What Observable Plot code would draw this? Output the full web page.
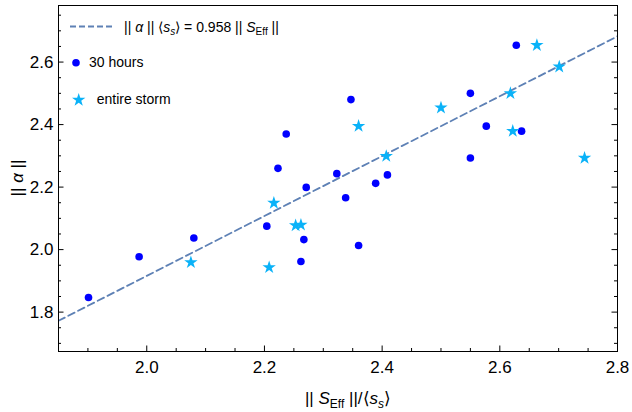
<!DOCTYPE html>
<html><head><meta charset="utf-8">
<script src="https://cdn.jsdelivr.net/npm/d3@7"></script>
<script src="https://cdn.jsdelivr.net/npm/@observablehq/plot@0.6"></script>
<style>body{margin:0;background:#fff} svg{font-family:"Liberation Sans",Arial,sans-serif}</style>
</head><body><div id="chart"></div>
<script>
// 30 hours (blue dots)
const hoursX = [1.901, 1.987, 2.080, 2.204, 2.223, 2.237, 2.271, 2.267, 2.262, 2.323, 2.338, 2.347, 2.389, 2.409, 2.360, 2.550, 2.577, 2.550, 2.628, 2.637];
const hoursY = [1.847, 1.977, 2.037, 2.075, 2.260, 2.370, 2.199, 2.032, 1.962, 2.243, 2.166, 2.480, 2.212, 2.239, 2.013, 2.500, 2.395, 2.293, 2.654, 2.379];
// entire storm (stars)
const stormX = [2.075, 2.208, 2.216, 2.253, 2.262, 2.360, 2.407, 2.500, 2.618, 2.622, 2.663, 2.701, 2.744];
const stormY = [1.959, 1.943, 2.149, 2.077, 2.079, 2.395, 2.299, 2.454, 2.500, 2.379, 2.654, 2.585, 2.293];
// fit line
const fitSlope = 0.958;
const xTicks = [2.0, 2.2, 2.4, 2.6, 2.8];
const yTicks = [1.8, 2.0, 2.2, 2.4, 2.6];
const xDomain = [1.85, 2.8];
const yDomain = [1.674, 2.781];

const W = 632, H = 412, mL = 58, mR = 15, mT = 5, mB = 61;
const hours = hoursX.map((x, i) => ({x, y: hoursY[i]}));
const storm = stormX.map((x, i) => ({x, y: stormY[i]}));
const fit = xDomain.map(x => ({x, y: fitSlope * x}));
const xMinor = d3.range(37, 57).map(i => i * 0.05).filter(v => !xTicks.some(t => Math.abs(t - v) < 1e-6));
const yMinor = d3.range(34, 56).map(i => i * 0.05).filter(v => !yTicks.some(t => Math.abs(t - v) < 1e-6));
const ypp = (yDomain[1] - yDomain[0]) / (H - mT - mB);
const xpp = (xDomain[1] - xDomain[0]) / (W - mL - mR);
const maj = 5.5, mnr = 3;
const lineColor = "#5E81B5", dotColor = "#0000FF", starColor = "#0AB2F8";
const dotR = 3.8, starR = 4.2;

const chart = Plot.plot({
  width: W, height: H,
  marginLeft: mL, marginRight: mR, marginTop: mT, marginBottom: mB,
  style: {fontFamily: '"Liberation Sans", Arial, sans-serif', fontSize: "17px", color: "#000", background: "#fff"},
  x: {domain: xDomain},
  y: {domain: yDomain},
  marks: [
    Plot.line(fit, {x: "x", y: "y", stroke: lineColor, strokeWidth: 1.8, strokeDasharray: "7,4", clip: true}),
    Plot.dot(hours, {x: "x", y: "y", r: dotR, fill: dotColor}),
    Plot.dot(storm, {x: "x", y: "y", r: starR, fill: starColor, symbol: "star"}),
    Plot.frame({stroke: "#000", strokeWidth: 1}),
    Plot.ruleX(xTicks, {x: d => d, y1: yDomain[0], y2: yDomain[0] + maj * ypp, stroke: "#000"}),
    Plot.ruleX(xMinor, {x: d => d, y1: yDomain[0], y2: yDomain[0] + mnr * ypp, stroke: "#000"}),
    Plot.ruleY(yTicks, {y: d => d, x1: xDomain[0], x2: xDomain[0] + maj * xpp, stroke: "#000"}),
    Plot.ruleY(yMinor, {y: d => d, x1: xDomain[0], x2: xDomain[0] + mnr * xpp, stroke: "#000"}),
    Plot.ruleY(yTicks, {y: d => d, x1: xDomain[1] - maj * xpp, x2: xDomain[1], stroke: "#000"}),
    Plot.ruleY(yMinor, {y: d => d, x1: xDomain[1] - mnr * xpp, x2: xDomain[1], stroke: "#000"}),
    Plot.axisX(xTicks, {tickSize: 0, tickPadding: 9, tickFormat: d3.format(".1f"), fontSize: 17, label: null}),
    Plot.axisY(yTicks, {tickSize: 0, tickPadding: 5, tickFormat: d3.format(".1f"), fontSize: 17, label: null})
  ]
});
document.getElementById("chart").appendChild(chart);

const svg = d3.select(chart);
const ff = '"Liberation Sans", Arial, sans-serif';

// X axis label
const xl = svg.append("text").attr("x", 348).attr("y", 404).attr("text-anchor", "middle")
  .attr("font-size", 17).attr("font-family", ff).attr("fill", "#000");
xl.append("tspan").text("|| ");
xl.append("tspan").attr("font-style", "italic").text("S");
xl.append("tspan").attr("font-size", 12).attr("dy", 4).text("Eff");
xl.append("tspan").attr("dy", -4).text(" ||/\u27E8");
xl.append("tspan").attr("font-style", "italic").text("s");
xl.append("tspan").attr("font-style", "italic").attr("font-size", 12).attr("dy", 4).text("s");
xl.append("tspan").attr("dy", -4).text("\u27E9");

// Y axis label
const yl = svg.append("text").attr("transform", "translate(23,178) rotate(-90)").attr("text-anchor", "middle")
  .attr("font-size", 17).attr("font-family", ff).attr("fill", "#000");
yl.append("tspan").text("|| ");
yl.append("tspan").attr("font-style", "italic").text("\u03B1");
yl.append("tspan").text(" ||");

// Legend
const lg = svg.append("g").attr("font-family", ff).attr("font-size", 14).attr("fill", "#000").attr("text-anchor", "start");
lg.append("line").attr("x1", 70).attr("x2", 115).attr("y1", 26.5).attr("y2", 26.5)
  .attr("stroke", lineColor).attr("stroke-width", 1.8).attr("stroke-dasharray", "6,3");
const t1 = lg.append("text").attr("x", 124).attr("y", 32).attr("text-anchor", "start");
t1.append("tspan").text("|| ");
t1.append("tspan").attr("font-style", "italic").text("\u03B1");
t1.append("tspan").text(" || \u27E8");
t1.append("tspan").attr("font-style", "italic").text("s");
t1.append("tspan").attr("font-style", "italic").attr("font-size", 10).attr("dy", 3).text("s");
t1.append("tspan").attr("dy", -3).text("\u27E9 = 0.958 || ");
t1.append("tspan").attr("font-style", "italic").text("S");
t1.append("tspan").attr("font-size", 10).attr("dy", 3).text("Eff");
t1.append("tspan").attr("dy", -3).text(" ||");

lg.append("circle").attr("cx", 76).attr("cy", 62.7).attr("r", dotR).attr("fill", dotColor);
lg.append("text").attr("x", 89).attr("y", 67).attr("text-anchor", "start").text("30 hours");
lg.append("path").attr("transform", "translate(78.7,100)")
  .attr("d", d3.symbol(d3.symbolStar, Math.PI * starR * starR)()).attr("fill", starColor);
lg.append("text").attr("x", 96.7).attr("y", 104).attr("text-anchor", "start").text("entire storm");
</script></body></html>
